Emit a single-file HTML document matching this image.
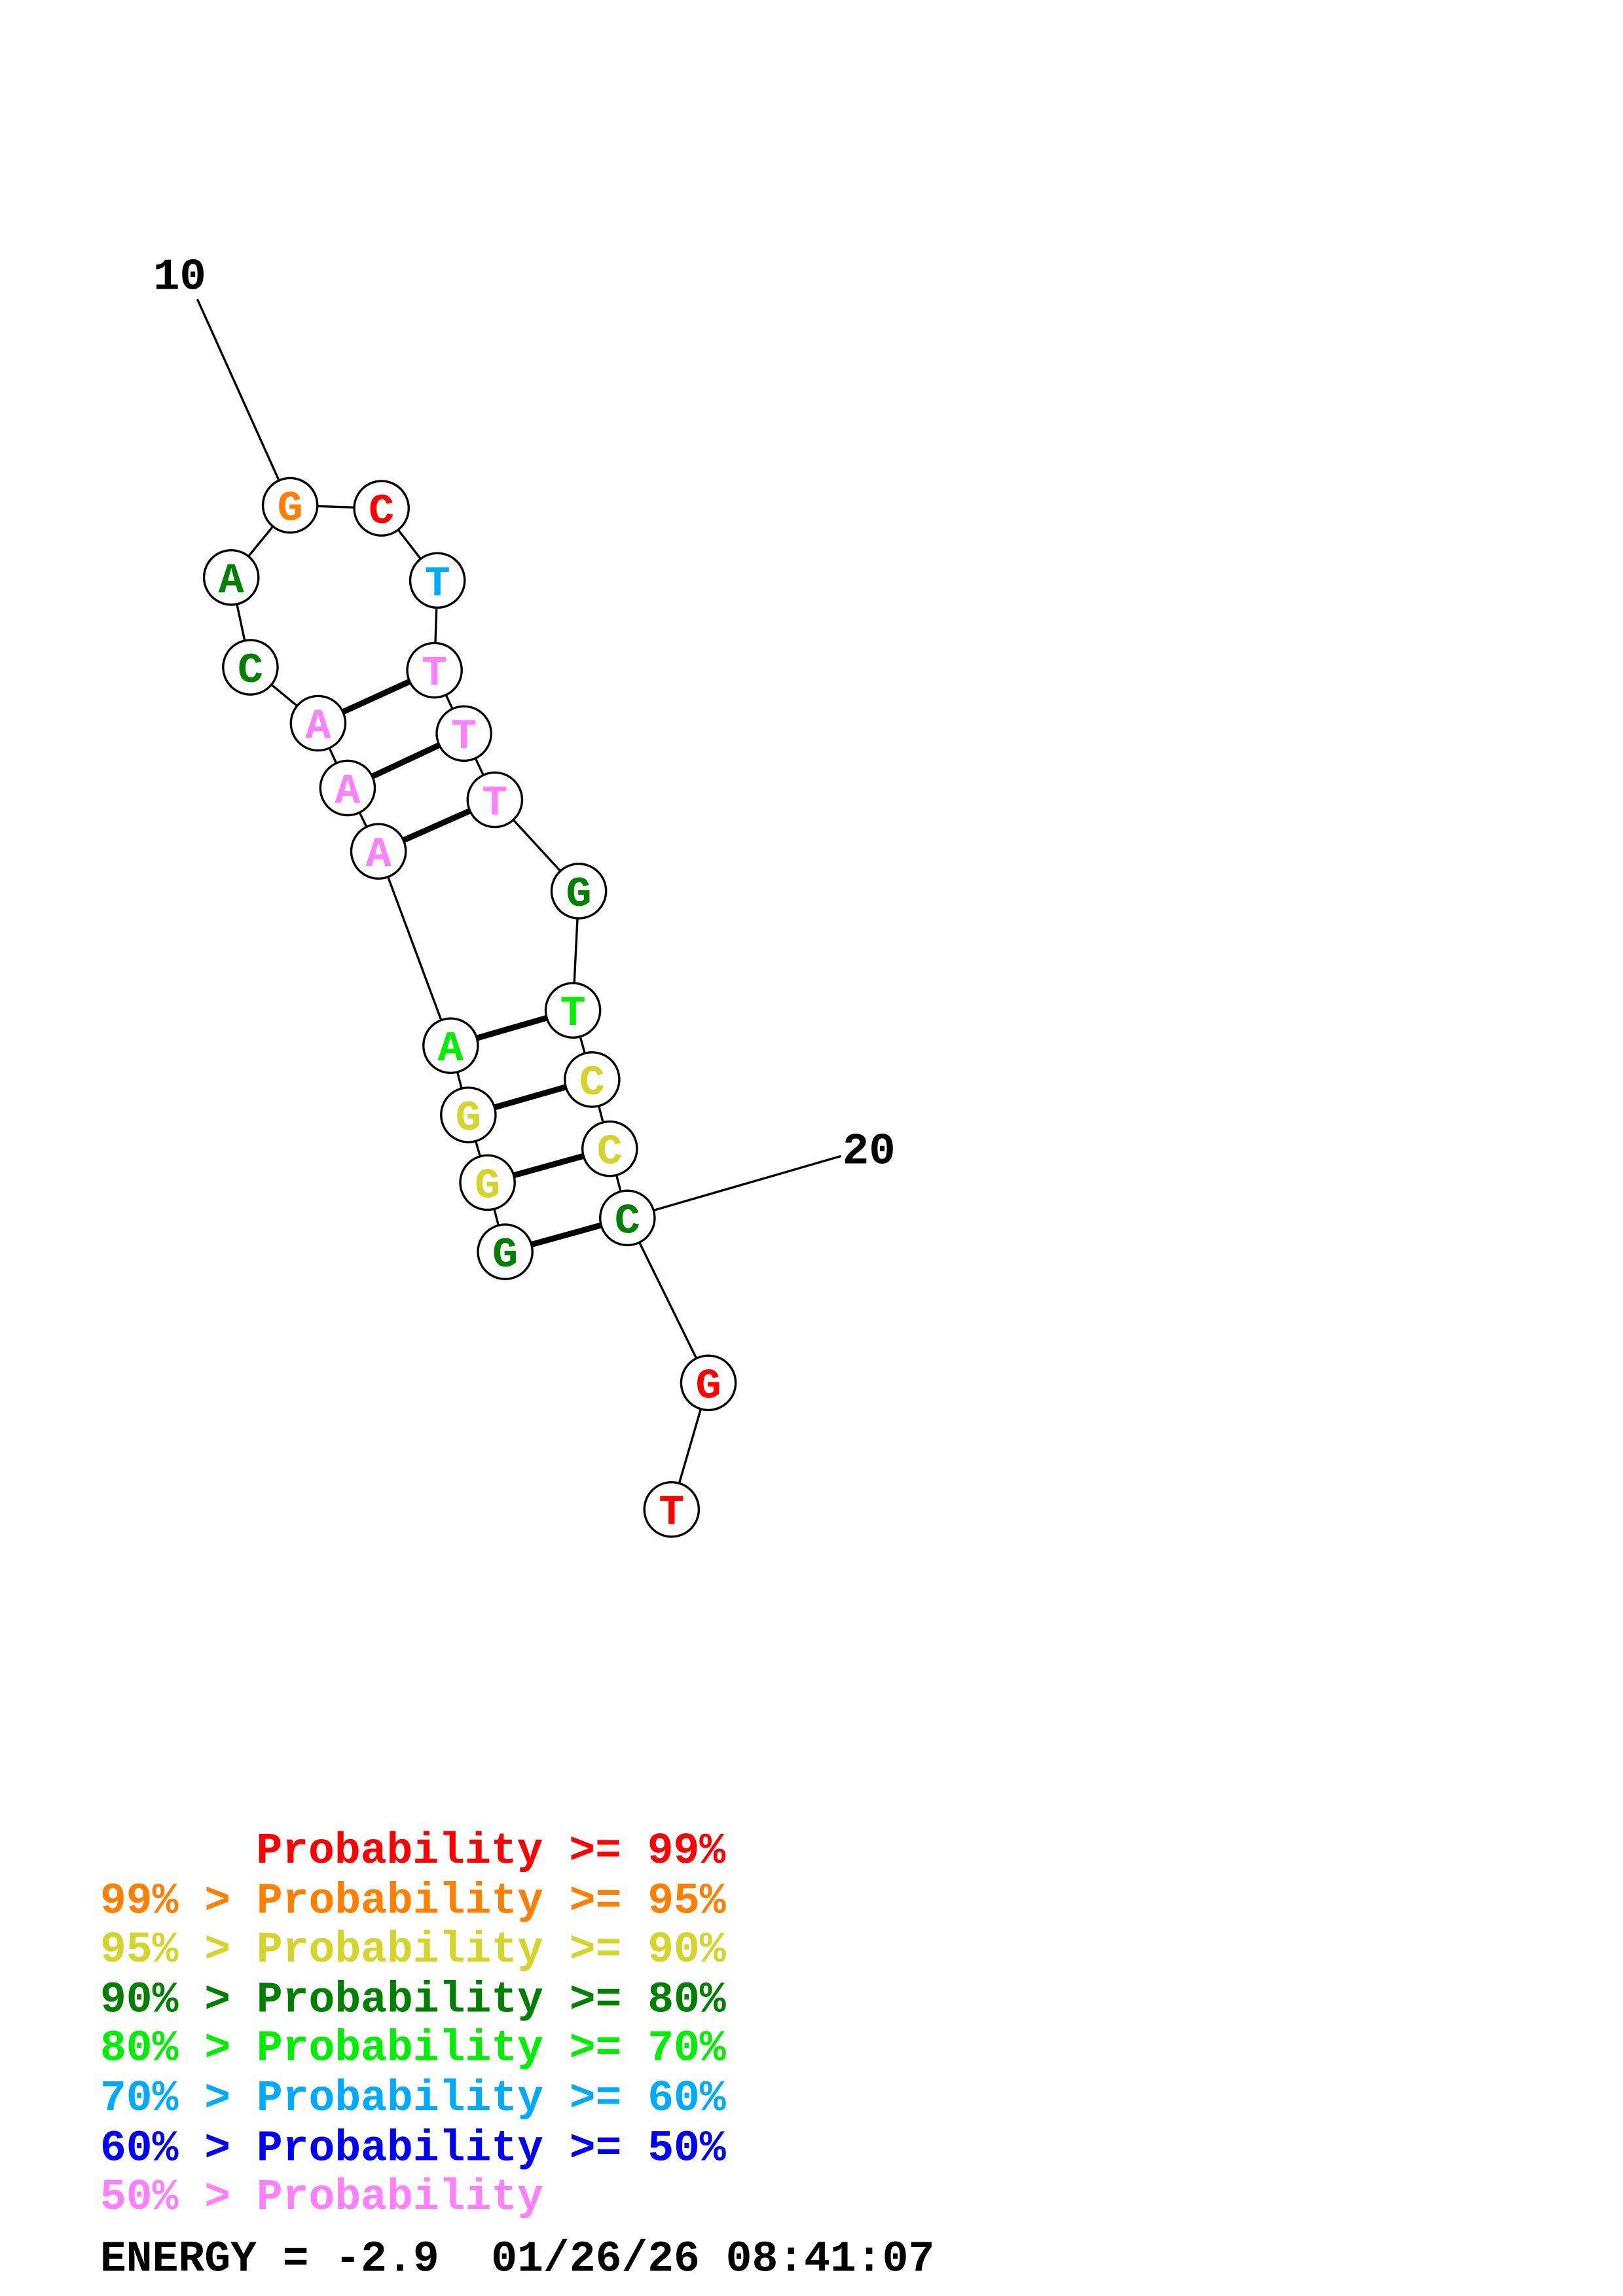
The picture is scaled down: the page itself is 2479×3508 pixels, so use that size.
<!DOCTYPE html>
<html><head><meta charset="utf-8"><style>
html,body{margin:0;padding:0;background:#fff;}
svg{display:block;}
text{font-family:"Liberation Mono",monospace;font-weight:bold;}
</style></head><body>
<svg width="2479" height="3508" viewBox="0 0 1102 1559" xmlns="http://www.w3.org/2000/svg">
<rect width="1102" height="1559" fill="#fff"/>
<g transform="translate(-1,-2)">
<g stroke="#000" stroke-width="1.5" fill="none">
<line x1="135" y1="205" x2="198" y2="345"/>
<line x1="198" y1="345" x2="260" y2="347"/>
<line x1="260" y1="347" x2="298" y2="396"/>
<line x1="298" y1="396" x2="296" y2="457"/>
<line x1="296" y1="457" x2="316" y2="500"/>
<line x1="316" y1="500" x2="337" y2="545"/>
<line x1="337" y1="545" x2="394" y2="607"/>
<line x1="394" y1="607" x2="390" y2="688"/>
<line x1="390" y1="688" x2="403" y2="735"/>
<line x1="403" y1="735" x2="415" y2="782"/>
<line x1="415" y1="782" x2="427" y2="829"/>
<line x1="427" y1="829" x2="482" y2="941"/>
<line x1="482" y1="941" x2="457" y2="1027"/>
<line x1="427" y1="829" x2="572" y2="787"/>
<line x1="198" y1="345" x2="158" y2="394"/>
<line x1="158" y1="394" x2="171" y2="455"/>
<line x1="171" y1="455" x2="217" y2="493"/>
<line x1="217" y1="493" x2="237" y2="537"/>
<line x1="237" y1="537" x2="258" y2="580"/>
<line x1="258" y1="580" x2="307" y2="712"/>
<line x1="307" y1="712" x2="319" y2="759"/>
<line x1="319" y1="759" x2="332" y2="805"/>
<line x1="332" y1="805" x2="344" y2="852"/>
</g>
<g stroke="#000" stroke-width="4">
<line x1="217" y1="493" x2="296" y2="457"/>
<line x1="237" y1="537" x2="316" y2="500"/>
<line x1="258" y1="580" x2="337" y2="545"/>
<line x1="307" y1="712" x2="390" y2="688"/>
<line x1="319" y1="759" x2="403" y2="735"/>
<line x1="332" y1="805" x2="415" y2="782"/>
<line x1="344" y1="852" x2="427" y2="829"/>
</g>
<g stroke="#000" stroke-width="1.5" fill="#fff">
<circle cx="198" cy="345" r="18.5"/><circle cx="260" cy="347" r="18.5"/>
<circle cx="298" cy="396" r="18.5"/><circle cx="296" cy="457" r="18.5"/>
<circle cx="316" cy="500" r="18.5"/><circle cx="337" cy="545" r="18.5"/>
<circle cx="394" cy="607" r="18.5"/><circle cx="390" cy="688" r="18.5"/>
<circle cx="403" cy="735" r="18.5"/><circle cx="415" cy="782" r="18.5"/>
<circle cx="427" cy="829" r="18.5"/><circle cx="482" cy="941" r="18.5"/>
<circle cx="457" cy="1027" r="18.5"/><circle cx="158" cy="394" r="18.5"/>
<circle cx="171" cy="455" r="18.5"/><circle cx="217" cy="493" r="18.5"/>
<circle cx="237" cy="537" r="18.5"/><circle cx="258" cy="580" r="18.5"/>
<circle cx="307" cy="712" r="18.5"/><circle cx="319" cy="759" r="18.5"/>
<circle cx="332" cy="805" r="18.5"/><circle cx="344" cy="852" r="18.5"/>
</g>
<g font-size="29" text-anchor="middle">
<text x="198" y="355" fill="#ff8000">G</text>
<text x="260" y="357" fill="#ff0000">C</text>
<text x="298" y="406" fill="#00aaff">T</text>
<text x="296" y="467" fill="#ff80ff">T</text>
<text x="316" y="510" fill="#ff80ff">T</text>
<text x="337" y="555" fill="#ff80ff">T</text>
<text x="394" y="617" fill="#008000">G</text>
<text x="390" y="698" fill="#00ee00">T</text>
<text x="403" y="745" fill="#d4d42a">C</text>
<text x="415" y="792" fill="#d4d42a">C</text>
<text x="427" y="839" fill="#008000">C</text>
<text x="482" y="951" fill="#ff0000">G</text>
<text x="457" y="1037" fill="#ff0000">T</text>
<text x="158" y="404" fill="#008000">A</text>
<text x="171" y="465" fill="#008000">C</text>
<text x="217" y="503" fill="#ff80ff">A</text>
<text x="237" y="547" fill="#ff80ff">A</text>
<text x="258" y="590" fill="#ff80ff">A</text>
<text x="307" y="722" fill="#00ee00">A</text>
<text x="319" y="769" fill="#d4d42a">G</text>
<text x="332" y="815" fill="#d4d42a">G</text>
<text x="344" y="862" fill="#008000">G</text>
</g>
<text x="105" y="198" font-size="30" fill="#000">10</text>
<text x="573" y="792" font-size="30" fill="#000">20</text>
<g font-size="29.5">
<text x="175" y="1267" fill="#ff0000">Probability &gt;= 99%</text>
<text x="69" y="1301" fill="#ff8000">99% &gt; Probability &gt;= 95%</text>
<text x="69" y="1334" fill="#d4d42a">95% &gt; Probability &gt;= 90%</text>
<text x="69" y="1368" fill="#008000">90% &gt; Probability &gt;= 80%</text>
<text x="69" y="1401" fill="#00ee00">80% &gt; Probability &gt;= 70%</text>
<text x="69" y="1435" fill="#00aaff">70% &gt; Probability &gt;= 60%</text>
<text x="69" y="1469" fill="#0000ff">60% &gt; Probability &gt;= 50%</text>
<text x="69" y="1502" fill="#ff80ff">50% &gt; Probability</text>
</g>
<text x="69" y="1544" font-size="29.5" fill="#000" xml:space="preserve">ENERGY = -2.9  01/26/26 08:41:07</text>
</g>
</svg>
</body></html>
